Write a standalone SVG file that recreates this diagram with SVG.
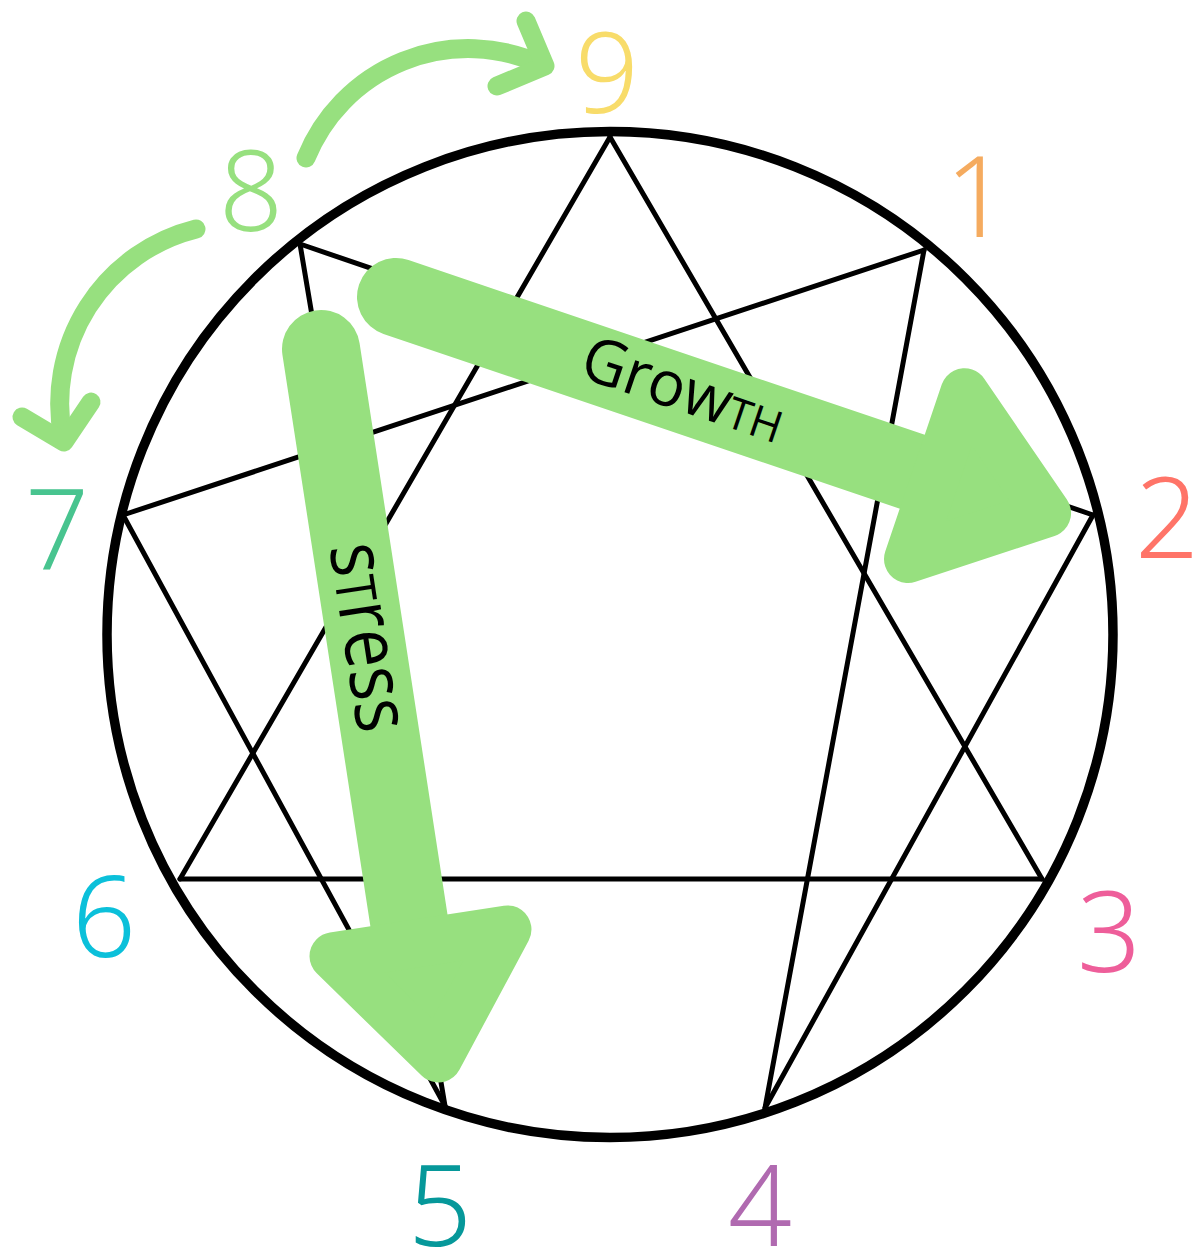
<svg xmlns="http://www.w3.org/2000/svg" width="1196" height="1251" viewBox="0 0 1196 1251">
<defs>
<style>
.ln{stroke:#000;stroke-width:5;stroke-linecap:round;fill:none}
.ring{fill:none;stroke:#000;stroke-width:9.5}
.num{font-family:"Noto Sans","DejaVu Sans",sans-serif;font-weight:300;font-size:112px;text-anchor:middle}
.band{stroke:#97e07f;stroke-width:78;stroke-linecap:round;fill:none}
.curve{stroke:#97e07f;stroke-width:19;stroke-linecap:round;stroke-linejoin:round;fill:none}
.lbl{font-family:"Open Sans","Noto Sans",sans-serif;fill:#000;text-anchor:middle}
.sc{font-variant:small-caps}
</style>
<polygon id="head" points="11,-88 128,0 11,88" fill="#97e07f" stroke="#97e07f" stroke-width="48" stroke-linejoin="round"/>
</defs>
<rect width="1196" height="1251" fill="#fff"/>
<circle class="ring" cx="610" cy="634.5" r="503"/>
<g id="connectors">
<line class="ln" x1="610" y1="137" x2="1042" y2="879"/>
<line class="ln" x1="610" y1="137" x2="180" y2="879"/>
<line class="ln" x1="180" y1="879" x2="1042" y2="879"/>
<line class="ln" x1="924" y1="250" x2="123" y2="515"/>
<line class="ln" x1="924" y1="250" x2="765" y2="1108"/>
<line class="ln" x1="1093" y1="515" x2="300" y2="244"/>
<line class="ln" x1="1093" y1="515" x2="765" y2="1108"/>
<line class="ln" x1="300" y1="244" x2="445" y2="1106"/>
<line class="ln" x1="123" y1="515" x2="445" y2="1106"/>
</g>
<g id="growth" transform="translate(396,297) rotate(18.7)">
<line class="band" x1="0" y1="0" x2="570" y2="0"/>
<use href="#head" x="558" y="-4"/>
<text class="lbl" x="302" y="17" font-size="63" textLength="210" lengthAdjust="spacingAndGlyphs">Grow<tspan class="sc">th</tspan></text>
</g>
<g id="stress" transform="translate(321,349) rotate(81.25)">
<line class="band" x1="0" y1="0" x2="600" y2="0"/>
<use href="#head" x="591" y="-8"/>
<text class="lbl" x="292" y="22" font-size="78" textLength="190" lengthAdjust="spacingAndGlyphs">s<tspan class="sc">t</tspan>ress</text>
</g>
<g id="arrow-8-9">
<path class="curve" d="M306,158 A175,175 0 0 1 540,64"/>
<polyline class="curve" points="526,21 545,66 497,86"/>
</g>
<g id="arrow-8-7">
<path class="curve" d="M196,229 A180,180 0 0 0 63,438"/>
<polyline class="curve" points="22,417 64,442 91,402"/>
</g>
<g id="node-9"><text class="num" x="607" y="113" fill="#f8dc6a">9</text></g>
<g id="node-1"><text class="num" x="977" y="237" font-size="100" fill="#f5ab5f">1</text></g>
<g id="node-2"><text class="num" x="1167" y="558" font-size="100" fill="#ff7468">2</text></g>
<g id="node-3"><text class="num" x="1109" y="972" fill="#ee5e9a">3</text></g>
<g id="node-4"><text class="num" x="760" y="1246" fill="#b06ab0">4</text></g>
<g id="node-5"><text class="num" x="440" y="1246" fill="#06989a">5</text></g>
<g id="node-6"><text class="num" x="104" y="957" fill="#0bc0da">6</text></g>
<g id="node-7"><text class="num" x="57" y="570" fill="#48c48f">7</text></g>
<g id="node-8"><text class="num" x="251" y="231" font-size="108" fill="#97e07f">8</text></g>
</svg>
